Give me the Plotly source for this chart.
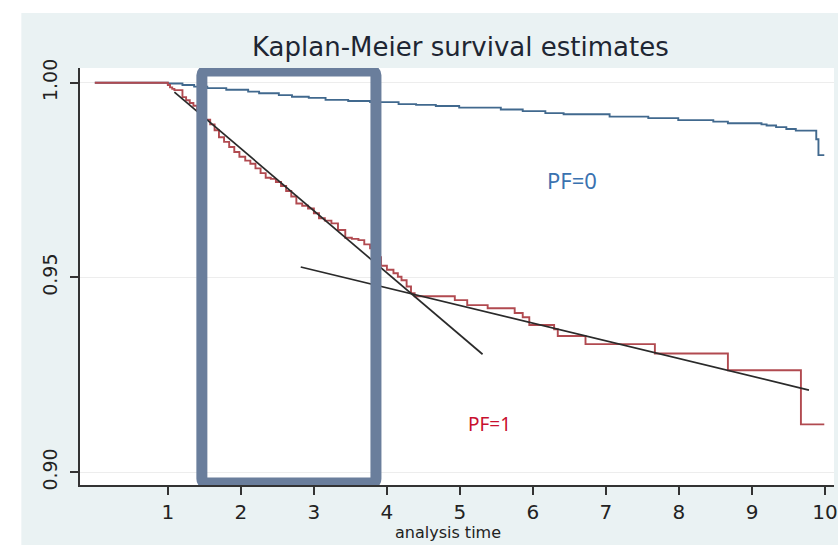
import plotly.graph_objects as go

# ---------------- data ----------------
pf0_time = [0, 1.00, 1.20, 1.36, 1.54, 1.80, 2.10, 2.25, 2.52, 2.70, 2.93, 3.16, 3.47,
            3.77, 4.16, 4.40, 4.67, 4.99, 5.56, 5.86, 6.17, 6.42, 7.05, 7.58, 7.99,
            8.47, 8.67, 9.13, 9.20, 9.33, 9.47, 9.60, 9.88, 9.91, 9.99]
pf0_surv = [1.0, 0.9998, 0.9994, 0.9990, 0.9986, 0.9982, 0.9977, 0.9973, 0.9968, 0.9964,
            0.9961, 0.9956, 0.9953, 0.9950, 0.9945, 0.9943, 0.9940, 0.9936, 0.9931,
            0.9927, 0.9922, 0.9919, 0.9913, 0.9909, 0.9904, 0.9900, 0.9896, 0.9893,
            0.9890, 0.9886, 0.9881, 0.9877, 0.9855, 0.9814, 0.9814]

pf1_time = [0, 1.00, 1.03, 1.06, 1.09, 1.20, 1.25, 1.30, 1.35, 1.40, 1.46, 1.52, 1.58,
            1.64, 1.70, 1.77, 1.84, 1.91, 1.98, 2.06, 2.13, 2.20, 2.27, 2.34, 2.41,
            2.48, 2.55, 2.62, 2.69, 2.76, 2.84, 2.92, 3.00, 3.07, 3.15, 3.24, 3.33,
            3.43, 3.52, 3.61, 3.69, 3.77, 3.84, 3.92, 4.00, 4.09, 4.15, 4.20, 4.27,
            4.33, 4.38, 4.93, 5.10, 5.38, 5.75, 5.86, 5.95, 6.29, 6.34, 6.72, 7.67,
            8.67, 9.67, 9.99]
pf1_surv = [1.0, 0.9994, 0.9988, 0.9984, 0.9981, 0.9963, 0.9955, 0.9948, 0.9941, 0.9932,
            0.9920, 0.9905, 0.9893, 0.9878, 0.9860, 0.9848, 0.9835, 0.9822, 0.9810,
            0.9800, 0.9792, 0.9780, 0.9768, 0.9756, 0.9753, 0.9745, 0.9735, 0.9722,
            0.9708, 0.9690, 0.9684, 0.9677, 0.9665, 0.9652, 0.9646, 0.9639, 0.9622,
            0.9602, 0.9599, 0.9596, 0.9585, 0.9575, 0.9552, 0.9530, 0.9520, 0.9511,
            0.9502, 0.9493, 0.9477, 0.9460, 0.9452, 0.9442, 0.9429, 0.9421, 0.9409,
            0.9398, 0.9378, 0.9367, 0.9350, 0.9329, 0.9305, 0.9262, 0.9123, 0.9123]

fit_early_time = [1.09, 5.31]
fit_early_surv = [0.9976, 0.9303]
fit_late_time = [2.82, 9.78]
fit_late_surv = [0.9527, 0.9211]

x_ticks = [1, 2, 3, 4, 5, 6, 7, 8, 9, 10]
y_ticks = [0.90, 0.95, 1.00]
y_ticklabels = ["0.90", "0.95", "1.00"]

title_text = "Kaplan-Meier survival estimates"
xaxis_title = "analysis time"
label_pf0 = "PF=0"
label_pf1 = "PF=1"

# highlight box (data coordinates)
box_x = [1.466, 3.850]
box_y = [0.89725, 1.0030]

# ---------------- figure ----------------
BLUE = "#41698e"
RED = "#b14a50"
BLACK = "#2a2a2a"
AXIS = "#333333"

fig = go.Figure()
fig.add_trace(go.Scatter(x=pf0_time, y=pf0_surv, mode="lines", line_shape="hv",
                         line=dict(color=BLUE, width=1.9), showlegend=False, hoverinfo="skip"))
fig.add_trace(go.Scatter(x=pf1_time, y=pf1_surv, mode="lines", line_shape="hv",
                         line=dict(color=RED, width=1.9), showlegend=False, hoverinfo="skip"))
fig.add_trace(go.Scatter(x=fit_early_time, y=fit_early_surv, mode="lines",
                         line=dict(color=BLACK, width=1.7), showlegend=False, hoverinfo="skip"))
fig.add_trace(go.Scatter(x=fit_late_time, y=fit_late_surv, mode="lines",
                         line=dict(color=BLACK, width=1.7), showlegend=False, hoverinfo="skip"))

x0, x1 = box_x
y0, y1 = box_y
rx, ry = 0.06, 0.0011
box_path = (f"M {x0+rx},{y0} L {x1-rx},{y0} Q {x1},{y0} {x1},{y0+ry} "
            f"L {x1},{y1-ry} Q {x1},{y1} {x1-rx},{y1} L {x0+rx},{y1} "
            f"Q {x0},{y1} {x0},{y1-ry} L {x0},{y0+ry} Q {x0},{y0} {x0+rx},{y0} Z")

shapes = [
    # white slide margins around the pasted graph
    dict(type="rect", xref="paper", yref="paper", x0=-0.3, x1=-0.0778, y0=-0.4, y1=1.4,
         fillcolor="white", line=dict(width=0), layer="below"),
    dict(type="rect", xref="paper", yref="paper", x0=-0.3, x1=1.3, y0=1.1319, y1=1.4,
         fillcolor="white", line=dict(width=0), layer="below"),
    dict(type="path", xref="x", yref="y", path=box_path,
         line=dict(color="#6a7e9c", width=11), fillcolor="rgba(0,0,0,0)", layer="above"),
]

annotations = [
    dict(text=title_text, xref="paper", yref="paper", x=0.5046, y=1.0504,
         xanchor="center", yanchor="middle", showarrow=False,
         font=dict(family="DejaVu Sans", size=26, color="#1e2633")),
    dict(text=xaxis_title, xref="paper", yref="paper", x=0.488, y=-0.115,
         xanchor="center", yanchor="middle", showarrow=False,
         font=dict(family="DejaVu Sans", size=16, color="#222222")),
    dict(text=label_pf0, xref="x", yref="y", x=6.53, y=0.9749,
         xanchor="center", yanchor="middle", showarrow=False,
         font=dict(family="Noto Sans", size=22, color="#3a72b0")),
    dict(text=label_pf1, xref="x", yref="y", x=5.41, y=0.91247,
         xanchor="center", yanchor="middle", showarrow=False,
         font=dict(family="Noto Sans", size=19, color="#c8102e")),
]

fig.update_layout(
    width=838, height=545,
    margin=dict(l=80, r=0, t=68, b=60, pad=0),
    paper_bgcolor="#eaf2f3",
    plot_bgcolor="white",
    shapes=shapes,
    annotations=annotations,
    showlegend=False,
    xaxis=dict(range=[-0.203, 10.123], tickvals=x_ticks, ticks="outside", ticklen=8,
               tickwidth=1.5, tickcolor=AXIS, showline=True, linecolor=AXIS, linewidth=1.5,
               showgrid=False, zeroline=False, fixedrange=True, ticklabeloverflow="allow",
               tickfont=dict(family="DejaVu Sans", size=20, color="#222222")),
    yaxis=dict(range=[0.89674, 1.00377], tickvals=y_ticks, ticktext=y_ticklabels,
               tickangle=-90, ticks="outside", ticklen=8, tickwidth=1.5, tickcolor=AXIS,
               showline=True, linecolor=AXIS, linewidth=1.5, showgrid=True,
               gridcolor="#ededed", gridwidth=1, zeroline=False, fixedrange=True,
               ticklabelstandoff=6,
               tickfont=dict(family="DejaVu Sans", size=19, color="#222222")),
)

fig.write_html("out.html", config={"displayModeBar": False})
